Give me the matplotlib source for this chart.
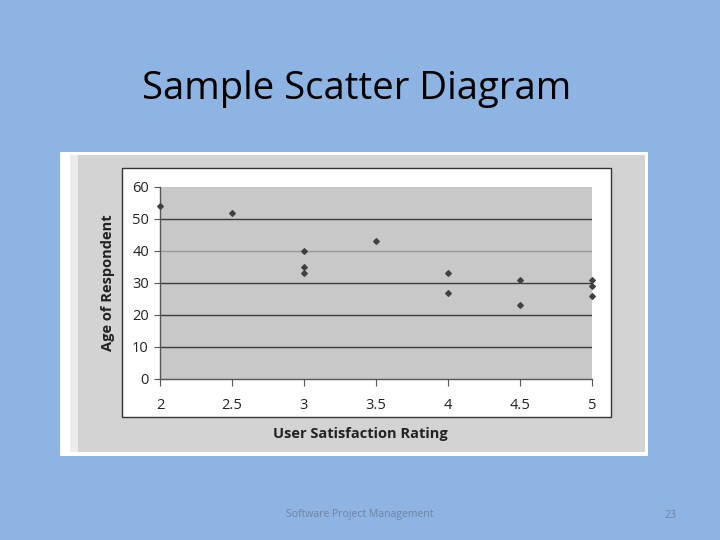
import matplotlib.pyplot as plt
from matplotlib.patches import Rectangle

# ratings (x) and ages (y)
rating = [2, 2.5, 3, 3, 3, 3.5, 4, 4, 4.5, 4.5, 5, 5, 5]
age = [54, 52, 40, 35, 33, 43, 33, 27, 31, 23, 31, 29, 26]
xticks = [2, 2.5, 3, 3.5, 4, 4.5, 5]
xtick_labels = ['2', '2.5', '3', '3.5', '4', '4.5', '5']
yticks = [0, 10, 20, 30, 40, 50, 60]

W, H = 720, 540
fig = plt.figure(figsize=(7.2, 5.4), dpi=100)
fig.patch.set_facecolor('#8db4e2')


def box(x0, y0, x1, y1, **kw):
    # pixel box (top-left origin) -> figure fraction, kept behind the axes
    fig.patches.append(Rectangle((x0 / W, 1 - y1 / H), (x1 - x0) / W, (y1 - y0) / H,
                                 transform=fig.transFigure, figure=fig, zorder=-5, **kw))


# picture frame: white border, grey panel, white chart area
box(60, 152, 648, 456, facecolor='white', edgecolor='none')
box(70, 155, 78, 452, facecolor='#ececec', edgecolor='none')
box(78, 155, 645, 452, facecolor='#d3d3d3', edgecolor='none')
box(122, 168, 611, 417, facecolor='white', edgecolor='#333333', linewidth=1)

fig.text(357 / W, 1 - 89 / H, 'Sample Scatter Diagram', ha='center', va='center',
         fontsize=27.5, family='Open Sans', color='black')
fig.text(360 / W, 1 - 515 / H, 'Software Project Management', ha='center', va='center',
         fontsize=7.5, family='Open Sans', color='#6f82a6')
fig.text(670 / W, 1 - 515 / H, '23', ha='center', va='center',
         fontsize=7.5, family='Open Sans', color='#6f82a6')

ax = fig.add_axes([160 / W, 1 - 379 / H, 432 / W, 192 / H])
ax.set_facecolor('#c8c8c8')
ax.scatter(rating, age, marker='D', s=8, color='#404040', zorder=3, clip_on=False)

ax.set_xlim(2, 5)
ax.set_ylim(0, 60)
ax.set_xticks(xticks)
ax.set_xticklabels(xtick_labels)
ax.set_yticks(yticks)

ax.set_axisbelow(True)
ax.yaxis.grid(True, color='#3a3a3a', linewidth=1)
for val, gl in zip(yticks, ax.get_ygridlines()):
    if val == 40:
        gl.set_color('#9a9a9a')
    if val in (0, 60):
        gl.set_visible(False)

for s in ['top', 'right']:
    ax.spines[s].set_visible(False)
for s in ['left', 'bottom']:
    ax.spines[s].set_color('#555555')
    ax.spines[s].set_linewidth(1)

ax.tick_params(axis='x', length=5, pad=9, labelsize=10.5, color='#555555', labelcolor='#222222')
ax.tick_params(axis='y', length=4, pad=4, labelsize=10.5, color='#555555', labelcolor='#222222')
for lab in ax.get_xticklabels() + ax.get_yticklabels():
    lab.set_family('Open Sans')

ax.set_xlabel('User Satisfaction Rating', fontsize=10.5, fontweight='bold',
              family='Open Sans', color='#222222')
ax.xaxis.set_label_coords(0.463, -0.286)
ax.xaxis.label.set_va('center')
ax.set_ylabel('Age of Respondent', fontsize=10.5, fontweight='bold',
              family='Open Sans', color='#222222')
ax.yaxis.set_label_coords(-0.12, 0.5)
ax.yaxis.label.set_va('center')

fig.savefig('out.png', dpi=100, facecolor=fig.get_facecolor())
